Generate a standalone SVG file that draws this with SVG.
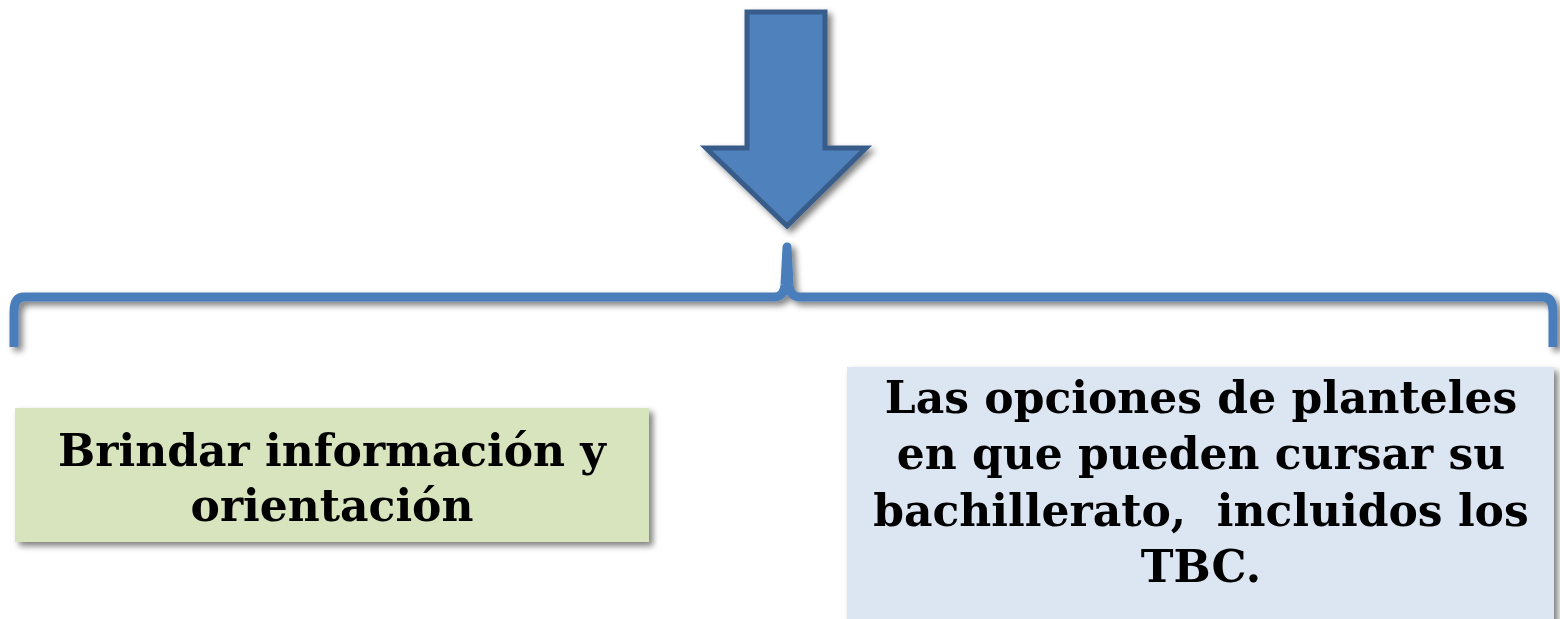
<svg xmlns="http://www.w3.org/2000/svg" width="1560" height="619" viewBox="0 0 1560 619">
<defs>
<filter id="sh" x="-10%" y="-10%" width="130%" height="140%">
<feGaussianBlur in="SourceAlpha" stdDeviation="3"/>
<feOffset dx="4" dy="4" result="b"/>
<feComponentTransfer><feFuncA type="linear" slope="0.5"/></feComponentTransfer>
<feMerge><feMergeNode/><feMergeNode in="SourceGraphic"/></feMerge>
</filter>
<style>
.t{font-family:"DejaVu Serif","Liberation Serif",serif;font-weight:bold;font-size:44px;fill:#000;text-anchor:middle}
</style>
</defs>
<rect width="1560" height="619" fill="#fff"/>
<g id="arrow" filter="url(#sh)">
<path d="M747,12 L825,12 L825,148 L866,148 L787,226 L706,148 L747,148 Z" fill="#4F81BD" stroke="#385D8A" stroke-width="5" stroke-linejoin="miter"/>
</g>
<g id="connectors" filter="url(#sh)">
<path d="M14,347 L14,312 Q14,297 24,297 L774,297 Q784,297 785,285 L787,247 L789,285 Q790,297 800,297 L1543,297 Q1553,297 1553,312 L1553,347" fill="none" stroke="#4A7EBB" stroke-width="9" stroke-linecap="butt" stroke-linejoin="round"/>
</g>
<g id="node1" filter="url(#sh)">
<rect x="15" y="408" width="634" height="134" fill="#D7E4BD"/>
<text class="t" x="332" y="466">Brindar información y</text>
<text class="t" x="332" y="521">orientación</text>
</g>
<g id="node2" filter="url(#sh)">
<rect x="847" y="367" width="707" height="260" fill="#DCE6F2"/>
<text class="t" x="1201" y="413">Las opciones de planteles</text>
<text class="t" x="1201" y="469">en que pueden cursar su</text>
<text class="t" x="1201" y="526" xml:space="preserve">bachillerato,  incluidos los</text>
<text class="t" x="1201" y="582">TBC.</text>
</g>
</svg>
